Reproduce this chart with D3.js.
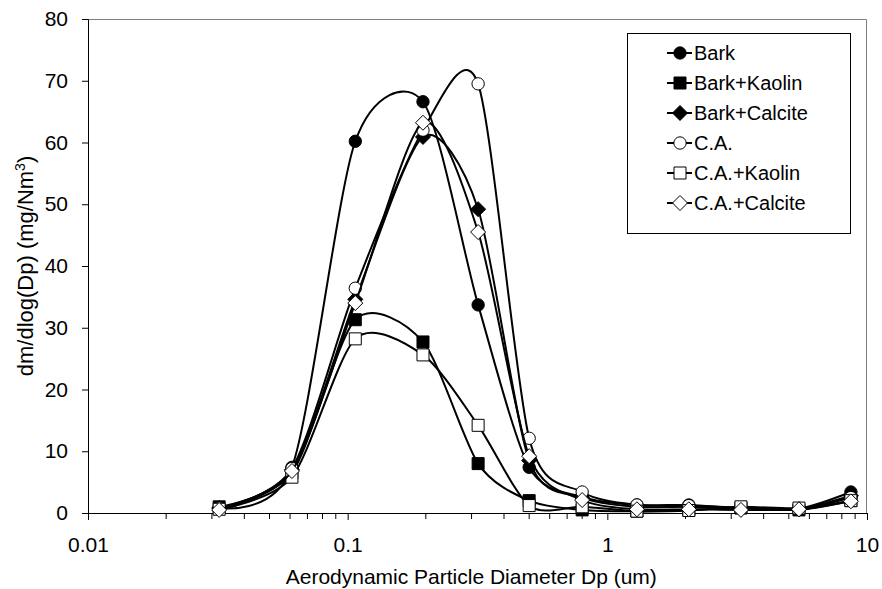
<!DOCTYPE html>
<html>
<head>
<meta charset="utf-8">
<script src="https://cdn.jsdelivr.net/npm/d3@7"></script>
<style>
  body { margin: 0; background: #fff; }
  svg text { font-family: Arial, "Liberation Sans", sans-serif; fill: #000; }
</style>
</head>
<body>
<svg id="chart" width="882" height="589"></svg>
<script>
// impactor stage diameters (um)
const DIAMETERS = [0.032, 0.061, 0.107, 0.195, 0.318, 0.50, 0.80, 1.30, 2.06, 3.27, 5.47, 8.67]

const BARK             = [0.8, 7.4, 60.2, 66.6, 33.7, 7.4, 2.6, 1.3, 1.3, 0.8, 0.7, 3.4]
const BARK_KAOLIN      = [1.0, 6.5, 31.3, 27.7, 8.0, 2.0, 0.5, 0.3, 0.5, 0.8, 0.5, 2.0]
const BARK_CALCITE     = [0.8, 7.0, 34.6, 60.9, 49.2, 8.5, 2.5, 1.0, 1.0, 0.6, 0.6, 2.8]
const CA               = [0.8, 7.2, 36.4, 62.0, 69.5, 12.1, 3.4, 1.3, 1.2, 0.8, 0.6, 2.5]
const CA_KAOLIN        = [0.6, 5.8, 28.2, 25.6, 14.2, 1.2, 1.0, 0.3, 0.4, 1.0, 0.8, 2.0]
const CA_CALCITE       = [0.5, 6.8, 34.0, 63.2, 45.5, 9.2, 2.1, 0.6, 0.6, 0.5, 0.6, 1.9]

const SERIES = [
  { name: 'Bark',         values: BARK,         shape: 'circle',  fill: '#000' },
  { name: 'Bark+Kaolin',  values: BARK_KAOLIN,  shape: 'square',  fill: '#000' },
  { name: 'Bark+Calcite', values: BARK_CALCITE, shape: 'diamond', fill: '#000' },
  { name: 'C.A.',         values: CA,           shape: 'circle',  fill: '#fff' },
  { name: 'C.A.+Kaolin',  values: CA_KAOLIN,    shape: 'square',  fill: '#fff' },
  { name: 'C.A.+Calcite', values: CA_CALCITE,   shape: 'diamond', fill: '#fff' }
]

const X_TICKS = [0.01, 0.1, 1, 10]
const Y_TICKS = [0, 10, 20, 30, 40, 50, 60, 70, 80]

const width = 882
const height = 589
const margin = { top: 19, right: 15, bottom: 76, left: 88 }
const plotW = width - margin.left - margin.right
const plotH = height - margin.top - margin.bottom

const svg = d3.select('#chart')
const g = svg.append('g').attr('transform', `translate(${margin.left},${margin.top})`)

const x = d3.scaleLog().domain([0.01, 10]).range([0, plotW])
const y = d3.scaleLinear().domain([0, 80]).range([plotH, 0])

// plot area frame (top/right)
g.append('path')
  .attr('d', `M0,0.5H${plotW - 0.5}V${plotH}`)
  .attr('fill', 'none')
  .attr('stroke', '#808080')
  .attr('stroke-width', 1)

// minor ticks on the log axis
const minor = []
for (let dec = 0.01; dec < 10; dec *= 10) {
  for (let k = 2; k <= 9; k++) minor.push(+(dec * k).toPrecision(3))
}

const xAxis = g.append('g')
  .attr('transform', `translate(0,${plotH})`)
  .call(d3.axisBottom(x).tickValues(X_TICKS).tickFormat(d => String(d)).tickSize(7).tickPadding(17))
xAxis.selectAll('.minor')
  .data(minor)
  .enter().append('line')
  .attr('x1', d => x(d)).attr('x2', d => x(d))
  .attr('y1', 0).attr('y2', 6)
  .attr('stroke', '#000')

const yAxis = g.append('g')
  .call(d3.axisLeft(y).tickValues(Y_TICKS).tickSize(6).tickPadding(14))

;[xAxis, yAxis].forEach(a => {
  a.select('.domain').attr('stroke', '#000')
  a.selectAll('text').style('font-size', '21px').attr('fill', '#000')
})

// axis titles
svg.append('text')
  .attr('x', margin.left + plotW * 0.492)
  .attr('y', 584)
  .attr('text-anchor', 'middle')
  .style('font-size', '21px')
  .text('Aerodynamic Particle Diameter Dp (um)')

const yl = svg.append('text')
  .attr('transform', `translate(33,${margin.top + plotH / 2}) rotate(-90)`)
  .attr('text-anchor', 'middle')
  .style('font-size', '22px')
yl.append('tspan').text('dm/dlog(Dp) (mg/Nm')
yl.append('tspan').attr('baseline-shift', 'super').style('font-size', '14px').text('3')
yl.append('tspan').text(')')

// markers
const markerPath = (shape) => {
  if (shape === 'circle') return d3.symbol(d3.symbolCircle, 120)()
  if (shape === 'square') return d3.symbol(d3.symbolSquare, 144)()
  const r = 7.5
  return `M0,${-r}L${r},0L0,${r}L${-r},0Z`
}

// excel-like smoothing, a bit stiffer than plain catmull-rom
const line = d3.line()
  .x(d => x(d[0]))
  .y(d => y(d[1]))
  .curve(d3.curveCardinal.tension(0.2))

SERIES.forEach(s => {
  const pts = DIAMETERS.map((d, i) => [d, s.values[i]])
  g.append('path')
    .datum(pts)
    .attr('d', line)
    .attr('fill', 'none')
    .attr('stroke', '#000')
    .attr('stroke-width', 2)
  g.selectAll(null)
    .data(pts)
    .enter().append('path')
    .attr('transform', d => `translate(${x(d[0])},${y(d[1])})`)
    .attr('d', markerPath(s.shape))
    .attr('fill', s.fill)
    .attr('stroke', '#000')
    .attr('stroke-width', 1)
})

// legend
const lg = svg.append('g').attr('transform', 'translate(627,33)')
lg.append('rect')
  .attr('x', 0.5).attr('y', 0.5)
  .attr('width', 223).attr('height', 200)
  .attr('fill', '#fff')
  .attr('stroke', '#000')

SERIES.forEach((s, i) => {
  const row = lg.append('g').attr('transform', `translate(0,${20 + i * 30})`)
  row.append('line')
    .attr('x1', 40).attr('x2', 65)
    .attr('stroke', '#000').attr('stroke-width', 2)
  row.append('path')
    .attr('transform', 'translate(53,0)')
    .attr('d', markerPath(s.shape))
    .attr('fill', s.fill)
    .attr('stroke', '#000')
  row.append('text')
    .attr('x', 67).attr('dy', '0.35em')
    .style('font-size', '20px')
    .text(s.name)
})
</script>
</body>
</html>
